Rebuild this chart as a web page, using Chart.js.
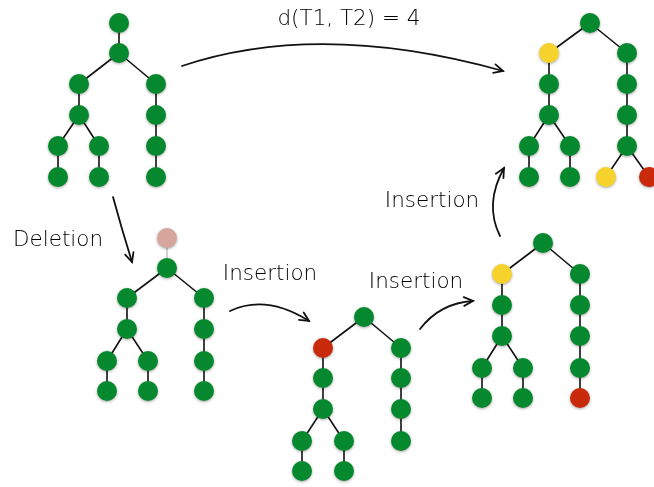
<!DOCTYPE html>
<html>
<head>
<meta charset="utf-8">
<script src="https://cdn.jsdelivr.net/npm/chart.js@4"></script>
<style>
  html, body { margin: 0; padding: 0; background: #fff; }
  #wrap { width: 654px; height: 487px; }
</style>
</head>
<body>
<div id="wrap"><canvas id="treeChart" width="654" height="487"></canvas></div>
<script>
// Node positions (x, y in chart units) and kind: g = green, y = yellow, r = red, p = pink (deleted)
const tree1Nodes = [[119,23,'g'],[119,53,'g'],[79,84,'g'],[156,84,'g'],[79,115,'g'],[58,146,'g'],[99,146,'g'],[58,177,'g'],[99,177,'g'],[156,115,'g'],[156,146,'g'],[156,177,'g']];
const tree1Edges = [[0,1],[1,2],[1,3],[2,4],[4,5],[4,6],[5,7],[6,8],[3,9],[9,10],[10,11]];

const tree2Nodes = [[167,238,'p'],[167,268,'g'],[127,298,'g'],[204,298,'g'],[127,329,'g'],[107,361,'g'],[148,361,'g'],[107,391,'g'],[148,391,'g'],[204,329,'g'],[204,361,'g'],[204,391,'g']];
const tree2Edges = [[0,1],[1,2],[1,3],[2,4],[4,5],[4,6],[5,7],[6,8],[3,9],[9,10],[10,11]];

const tree3Nodes = [[364,317,'g'],[323,348,'r'],[401,348,'g'],[323,378,'g'],[323,409,'g'],[302,441,'g'],[344,441,'g'],[302,471,'g'],[344,471,'g'],[401,378,'g'],[401,409,'g'],[401,441,'g']];
const tree3Edges = [[0,1],[0,2],[1,3],[3,4],[4,5],[4,6],[5,7],[6,8],[2,9],[9,10],[10,11]];

const tree4Nodes = [[543,243,'g'],[502,274,'y'],[580,274,'g'],[502,305,'g'],[502,336,'g'],[482,368,'g'],[523,368,'g'],[482,398,'g'],[523,398,'g'],[580,305,'g'],[580,336,'g'],[580,368,'g'],[580,398,'r']];
const tree4Edges = [[0,1],[0,2],[1,3],[3,4],[4,5],[4,6],[5,7],[6,8],[2,9],[9,10],[10,11],[11,12]];

const tree5Nodes = [[590,23,'g'],[549,53,'y'],[627,53,'g'],[549,84,'g'],[549,115,'g'],[529,146,'g'],[570,146,'g'],[529,177,'g'],[570,177,'g'],[627,84,'g'],[627,115,'g'],[627,146,'g'],[606,177,'y'],[649,177,'r']];
const tree5Edges = [[0,1],[0,2],[1,3],[3,4],[4,5],[4,6],[5,7],[6,8],[2,9],[9,10],[10,11],[11,12],[11,13]];

// Arrows: start, control, end (quadratic curve)
const arrows = [
  [[182,66],[320,20],[503,71]],
  [[113,197],[122,230],[132,262]],
  [[230,311],[266,294],[309,321]],
  [[420,329],[440,303],[473,301]],
  [[500,236],[484,204],[504,168]]
];

const labels = [
  { text: 'd(T1, T2) = 4', x: 349, y: 19 },
  { text: 'Deletion', x: 58, y: 240 },
  { text: 'Insertion', x: 270, y: 274 },
  { text: 'Insertion', x: 416, y: 282 },
  { text: 'Insertion', x: 432, y: 201 }
];

const colors = { g: '#06882e', y: '#f5d22c', r: '#c92a0c', p: '#d6a59c' };

const trees = [
  [tree1Nodes, tree1Edges],
  [tree2Nodes, tree2Edges],
  [tree3Nodes, tree3Edges],
  [tree4Nodes, tree4Edges],
  [tree5Nodes, tree5Edges]
];

// Build datasets
const nodePoints = [];
const nodeColors = [];
const edgeSets = [];
trees.forEach(([nodes, edges]) => {
  nodes.forEach(n => {
    nodePoints.push({ x: n[0], y: n[1] });
    nodeColors.push(colors[n[2]]);
  });
  edges.forEach(([a, b]) => {
    const faded = nodes[a][2] === 'p' || nodes[b][2] === 'p';
    edgeSets.push({
      type: 'line',
      data: [{ x: nodes[a][0], y: nodes[a][1] }, { x: nodes[b][0], y: nodes[b][1] }],
      borderColor: faded ? '#c8c8c8' : '#111',
      borderWidth: 1.6,
      pointRadius: 0,
      showLine: true,
      fill: false,
      order: 2
    });
  });
});

// Sombra de los nodos + flechas + textos
const decorPlugin = {
  id: 'decor',
  beforeDatasetDraw(chart, args) {
    if (args.index === 0) {
      const ctx = chart.ctx;
      ctx.save();
      ctx.shadowColor = 'rgba(0,0,0,0.35)';
      ctx.shadowBlur = 3;
      ctx.shadowOffsetY = 1;
    }
  },
  afterDatasetDraw(chart, args) {
    if (args.index === 0) chart.ctx.restore();
  },
  afterDraw(chart) {
    const ctx = chart.ctx;
    const xs = chart.scales.x, ys = chart.scales.y;
    const px = p => [xs.getPixelForValue(p[0]), ys.getPixelForValue(p[1])];
    ctx.save();
    ctx.strokeStyle = '#111';
    ctx.lineWidth = 1.8;
    ctx.lineCap = 'round';
    arrows.forEach(([s, c, e]) => {
      const S = px(s), C = px(c), E = px(e);
      ctx.beginPath();
      ctx.moveTo(S[0], S[1]);
      ctx.quadraticCurveTo(C[0], C[1], E[0], E[1]);
      ctx.stroke();
      const ang = Math.atan2(E[1] - C[1], E[0] - C[0]);
      const len = 10, spread = 0.45;
      ctx.beginPath();
      ctx.moveTo(E[0] - len * Math.cos(ang - spread), E[1] - len * Math.sin(ang - spread));
      ctx.lineTo(E[0], E[1]);
      ctx.lineTo(E[0] - len * Math.cos(ang + spread), E[1] - len * Math.sin(ang + spread));
      ctx.stroke();
    });
    ctx.fillStyle = '#000';
    ctx.font = '200 21.5px "DejaVu Sans", "Open Sans", sans-serif';
    ctx.textAlign = 'center';
    ctx.textBaseline = 'middle';
    labels.forEach(l => {
      const P = px([l.x, l.y]);
      ctx.fillText(l.text, P[0], P[1]);
    });
    ctx.restore();
  }
};

new Chart(document.getElementById('treeChart'), {
  type: 'scatter',
  data: {
    datasets: [
      {
        data: nodePoints,
        backgroundColor: nodeColors,
        borderWidth: 0,
        pointRadius: 10,
        pointHoverRadius: 10,
        clip: false,
        order: 1
      },
      ...edgeSets
    ]
  },
  options: {
    responsive: false,
    animation: false,
    layout: { padding: 0, autoPadding: false },
    events: [],
    plugins: { legend: { display: false }, tooltip: { enabled: false } },
    scales: {
      x: { type: 'linear', min: 0, max: 654, display: false },
      y: { type: 'linear', min: 0, max: 487, reverse: true, display: false }
    }
  },
  plugins: [decorPlugin]
});
</script>
</body>
</html>
